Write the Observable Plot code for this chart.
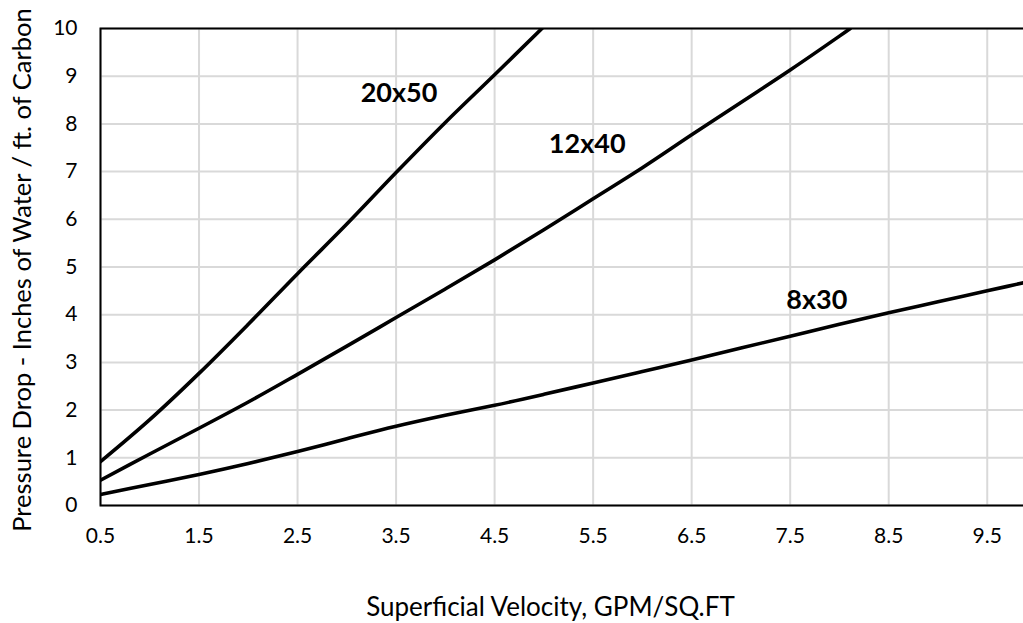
<!DOCTYPE html>
<html><head><meta charset="utf-8">
<script src="https://cdn.jsdelivr.net/npm/d3@7"></script>
<script src="https://cdn.jsdelivr.net/npm/@observablehq/plot@0.6"></script>
<style>
html,body{margin:0;padding:0;overflow:hidden;background:#fff;}
#chart svg{max-width:none !important;display:block;}
</style></head><body><div id="chart"></div>
<script>
const series = ["20x50", "12x40", "8x30"];
const velocity20x50 = [0.5, 1.0, 1.5, 2.0, 2.5, 3.0, 3.5, 4.0, 4.5, 5.0];
const drop20x50     = [0.92, 1.8, 2.77, 3.8, 4.86, 5.9, 6.98, 8.03, 9.03, 10.04];
const velocity12x40 = [0.5, 1.0, 1.5, 2.0, 2.5, 3.0, 3.5, 4.0, 4.5, 5.0, 5.5, 6.0, 6.5, 7.0, 7.5, 8.0, 8.11];
const drop12x40     = [0.53, 1.08, 1.62, 2.17, 2.75, 3.34, 3.94, 4.54, 5.15, 5.78, 6.43, 7.08, 7.77, 8.45, 9.13, 9.84, 10.0];
const velocity8x30  = [0.5, 1.0, 1.5, 2.0, 2.5, 3.0, 3.5, 4.0, 4.5, 5.0, 5.5, 6.0, 6.5, 7.0, 7.5, 8.0, 8.5, 9.0, 9.5, 10.0];
const drop8x30      = [0.23, 0.44, 0.65, 0.88, 1.13, 1.4, 1.66, 1.89, 2.1, 2.33, 2.57, 2.81, 3.05, 3.3, 3.55, 3.8, 4.04, 4.27, 4.5, 4.73];
const xTicks = [0.5, 1.5, 2.5, 3.5, 4.5, 5.5, 6.5, 7.5, 8.5, 9.5];
const yTicks = [0, 1, 2, 3, 4, 5, 6, 7, 8, 9, 10];
const labelVelocity = [3.53, 5.44, 7.77];
const labelDrop = [8.63, 7.58, 4.31];
const xTitle = "Superficial Velocity, GPM/SQ.FT";
const yTitle = "Pressure Drop - Inches of Water / ft. of Carbon";

const rows = [];
[[velocity20x50, drop20x50], [velocity12x40, drop12x40], [velocity8x30, drop8x30]].forEach(([vs, ds], i) =>
  vs.forEach((v, j) => rows.push({size: series[i], v, d: ds[j]})));

const chart = Plot.plot({
  width: 1036, height: 623,
  marginLeft: 100, marginRight: 0, marginTop: 28, marginBottom: 118,
  style: {fontFamily: "Lato, sans-serif", background: "white", color: "black"},
  x: {domain: [0.5, 10]},
  y: {domain: [0, 10]},
  marks: [
    Plot.gridX(xTicks, {stroke: "#d9d9d9", strokeOpacity: 1, strokeWidth: 2}),
    Plot.gridY(yTicks, {stroke: "#d9d9d9", strokeOpacity: 1, strokeWidth: 2}),
    Plot.line(rows, {x: "v", y: "d", z: "size", stroke: "black", strokeWidth: 3.6, curve: "catmull-rom", clip: true}),
    Plot.frame({stroke: "black", strokeWidth: 2}),
    Plot.axisX(xTicks, {tickSize: 0, tickPadding: 23, fontSize: 21, label: null, tickFormat: d => d.toFixed(1)}),
    Plot.axisY(yTicks, {tickSize: 0, tickPadding: 23, fontSize: 21, label: null}),
    Plot.text([xTitle], {frameAnchor: "bottom", text: d => d, dx: -18, dy: 110, fontSize: 26, fill: "black"}),
    Plot.text([yTitle], {frameAnchor: "left", text: d => d, rotate: -90, textAnchor: "middle", dx: -78, dy: 3, fontSize: 25.5, fill: "black"}),
    Plot.text(series, {x: (d, i) => labelVelocity[i], y: (d, i) => labelDrop[i], text: d => d, fontWeight: "bold", fontSize: 27, fill: "black"})
  ]
});
document.getElementById("chart").appendChild(chart);
</script></body></html>
